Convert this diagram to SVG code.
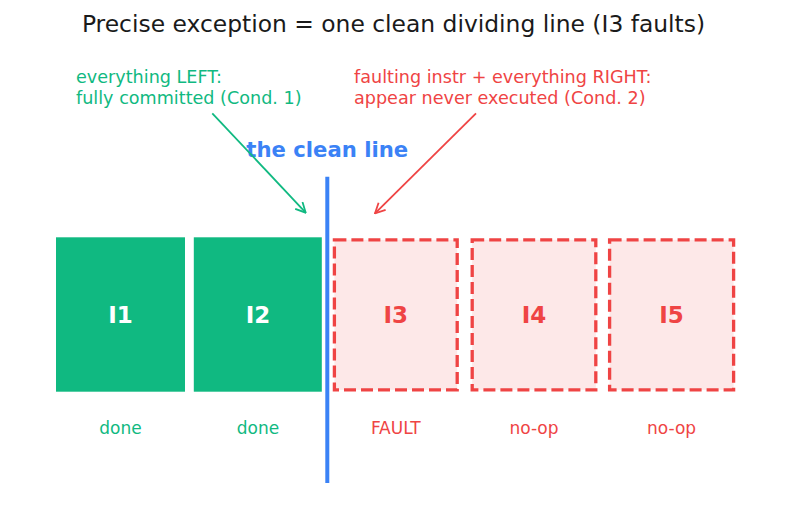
<svg xmlns="http://www.w3.org/2000/svg" width="787" height="510" viewBox="0 0 787 510">
  <style>
    text { font-family: "DejaVu Sans", "Liberation Sans", sans-serif; }
    .title { font-size: 23.4px; fill: #1a1a1a; }
    .note { font-size: 17.6px; }
    .green { fill: #10b981; }
    .red { fill: #ef4444; }
    .done-box { fill: #10b981; }
    .noop-box { fill: #fde8e8; stroke: #ef4444; stroke-width: 3.3; stroke-dasharray: 12 5; }
    .ilabel { font-size: 23px; font-weight: bold; text-anchor: middle; }
    .status { font-size: 17px; text-anchor: middle; }
    .line-label { font-size: 21.2px; font-weight: bold; fill: #3b82f6; text-anchor: middle; }
  </style>
  <defs>
    <marker id="head-green" viewBox="0 0 12 12" refX="11" refY="6" markerWidth="12" markerHeight="12" markerUnits="userSpaceOnUse" orient="auto">
      <path d="M1,1 L11,6 L1,11" fill="none" stroke="#10b981" stroke-width="1.8"/>
    </marker>
    <marker id="head-red" viewBox="0 0 12 12" refX="11" refY="6" markerWidth="12" markerHeight="12" markerUnits="userSpaceOnUse" orient="auto">
      <path d="M1,1 L11,6 L1,11" fill="none" stroke="#ef4444" stroke-width="1.8"/>
    </marker>
  </defs>

  <rect width="787" height="510" fill="#ffffff"/>

  <text class="title" x="393.5" y="32" text-anchor="middle">Precise exception = one clean dividing line (I3 faults)</text>

  <!-- annotations -->
  <text class="note green" x="76" y="82.7">everything LEFT:</text>
  <text class="note green" x="76" y="103.7">fully committed (Cond. 1)</text>
  <text class="note red" x="354" y="82.7">faulting instr + everything RIGHT:</text>
  <text class="note red" x="354" y="103.7">appear never executed (Cond. 2)</text>

  <!-- instruction boxes -->
  <g id="I1">
    <rect class="done-box" x="56" y="237.3" width="129" height="154.4"/>
    <text class="ilabel" x="120.5" y="322.6" fill="#ffffff">I1</text>
    <text class="status green" x="120.5" y="434">done</text>
  </g>
  <g id="I2">
    <rect class="done-box" x="193.8" y="237.3" width="128" height="154.4"/>
    <text class="ilabel" x="258" y="322.6" fill="#ffffff">I2</text>
    <text class="status green" x="258" y="434">done</text>
  </g>
  <g id="I3">
    <rect class="noop-box" x="334.4" y="239.8" width="122.8" height="150"/>
    <text class="ilabel red" x="395.8" y="322.6">I3</text>
    <text class="status red" x="395.8" y="434">FAULT</text>
  </g>
  <g id="I4">
    <rect class="noop-box" x="472.2" y="239.8" width="123.6" height="150"/>
    <text class="ilabel red" x="534" y="322.6">I4</text>
    <text class="status red" x="534" y="434">no-op</text>
  </g>
  <g id="I5">
    <rect class="noop-box" x="609.6" y="239.8" width="124" height="150"/>
    <text class="ilabel red" x="671.6" y="322.6">I5</text>
    <text class="status red" x="671.6" y="434">no-op</text>
  </g>

  <!-- dividing line -->
  <g id="clean-line">
    <line x1="327.3" y1="176.7" x2="327.3" y2="483" stroke="#3b82f6" stroke-width="4"/>
    <text class="line-label" x="327.3" y="157">the clean line</text>
  </g>

  <!-- connectors -->
  <g id="connectors" fill="none" stroke-width="1.8">
    <line x1="212.3" y1="113.3" x2="305.7" y2="212.7" stroke="#10b981" marker-end="url(#head-green)"/>
    <line x1="476" y1="113.3" x2="375" y2="213.3" stroke="#ef4444" marker-end="url(#head-red)"/>
  </g>
</svg>
